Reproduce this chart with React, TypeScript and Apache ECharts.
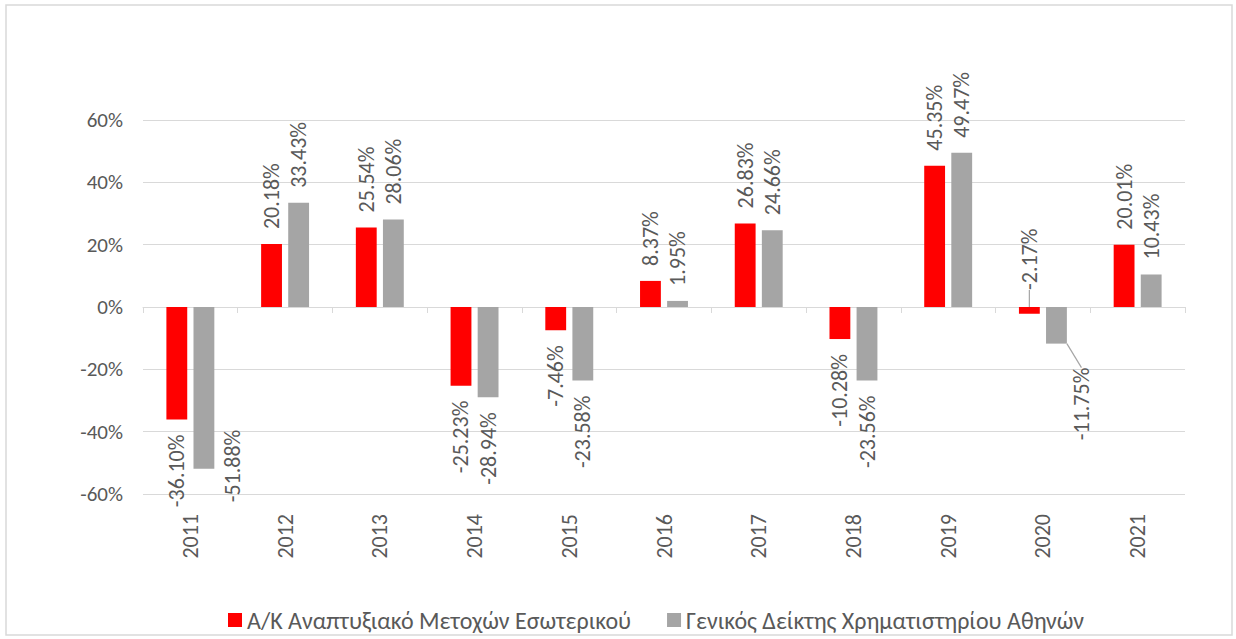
import React, { useEffect, useRef } from "react";
import * as echarts from "echarts";

const years = ["2011", "2012", "2013", "2014", "2015", "2016", "2017", "2018", "2019", "2020", "2021"];
const fundReturns = [-36.1, 20.18, 25.54, -25.23, -7.46, 8.37, 26.83, -10.28, 45.35, -2.17, 20.01];
const indexReturns = [-51.88, 33.43, 28.06, -28.94, -23.58, 1.95, 24.66, -23.56, 49.47, -11.75, 10.43];
const seriesNames = ["Α/Κ Αναπτυξιακό Μετοχών Εσωτερικού", "Γενικός Δείκτης Χρηματιστηρίου Αθηνών"];
const yTicks = { min: -60, max: 60, interval: 20 };

const FONT = "Carlito, Lato, sans-serif";
const TEXT = "#595959";

function buildData(values: number[], seriesIdx: number) {
  return values.map((v, i) => {
    const neg = v < 0;
    const item: any = {
      value: v,
      label: neg
        ? { position: "bottom", align: "right" }
        : { position: "top", align: "left" },
    };
    if (seriesIdx === 0 && i === 9) {
      item.label = { position: "top", align: "left", distance: 17 };
      item.labelLine = { show: true, lineStyle: { color: "#A5A5A5", width: 1.2 } };
    }
    if (seriesIdx === 1 && i === 9) {
      item.labelLine = { show: true, lineStyle: { color: "#A5A5A5", width: 1.2 } };
    }
    return item;
  });
}

export default function App() {
  const ref = useRef<HTMLDivElement>(null);
  useEffect(() => {
    if (!ref.current) return;
    const chart = echarts.init(ref.current, undefined, { renderer: "svg" });
    const labelBase = {
      show: true,
      rotate: 90,
      verticalAlign: "middle",
      distance: 15,
      color: TEXT,
      fontSize: 22,
      fontFamily: FONT,
      formatter: (p: any) => p.value.toFixed(2) + "%",
    };
    chart.setOption({
      animation: false,
      backgroundColor: "#ffffff",
      textStyle: { fontFamily: FONT },
      graphic: [
        {
          type: "rect",
          shape: { x: 6, y: 5, width: 1226, height: 630 },
          style: { fill: "none", stroke: "#D9D9D9", lineWidth: 1.5 },
          silent: true,
        },
      ],
      grid: { left: 143, right: 51, top: 120, bottom: 145 },
      legend: {
        top: 603,
        left: 223,
        icon: "rect",
        itemWidth: 14,
        itemHeight: 14,
        itemGap: 36,
        textStyle: { color: TEXT, fontSize: 24, fontFamily: FONT },
        data: seriesNames,
      },
      xAxis: [
        {
          type: "category",
          data: years,
          axisLine: { show: true, onZero: true, lineStyle: { color: "#D9D9D9", width: 1 } },
          axisTick: { show: true, length: 6, lineStyle: { color: "#D9D9D9" } },
          axisLabel: { show: false },
          splitLine: { show: false },
        },
        {
          type: "category",
          data: years,
          position: "bottom",
          axisLine: { show: false },
          axisTick: { show: false },
          axisLabel: {
            show: true,
            rotate: 90,
            margin: 20,
            color: TEXT,
            fontSize: 22,
            fontFamily: FONT,
          },
          splitLine: { show: false },
        },
      ],
      yAxis: {
        type: "value",
        min: yTicks.min,
        max: yTicks.max,
        interval: yTicks.interval,
        axisLine: { show: false },
        axisTick: { show: false },
        axisLabel: {
          formatter: "{value}%",
          color: TEXT,
          fontSize: 21,
          fontFamily: FONT,
          margin: 20,
        },
        splitLine: { lineStyle: { color: "#D9D9D9", width: 1 } },
      },
      series: [
        {
          name: seriesNames[0],
          type: "bar",
          xAxisIndex: 0,
          data: buildData(fundReturns, 0),
          barWidth: "22%",
          barGap: "30%",
          itemStyle: { color: "#FF0000" },
          label: labelBase,
        },
        {
          name: seriesNames[1],
          type: "bar",
          xAxisIndex: 0,
          data: buildData(indexReturns, 1),
          barWidth: "22%",
          barGap: "30%",
          itemStyle: { color: "#A5A5A5" },
          label: labelBase,
          labelLayout: (p: any) => {
            // offsets are in the rotated label frame
            if (p.dataIndex === 0) return { dx: 54, dy: 29 };
            if (p.dataIndex === 9) return { dx: -9, dy: 25 };
            return {};
          },
        },
      ],
    });
    return () => chart.dispose();
  }, []);
  return (
    <div
      ref={ref}
      style={{ position: "absolute", left: 0, top: 0, width: 1236, height: 639 }}
    />
  );
}
